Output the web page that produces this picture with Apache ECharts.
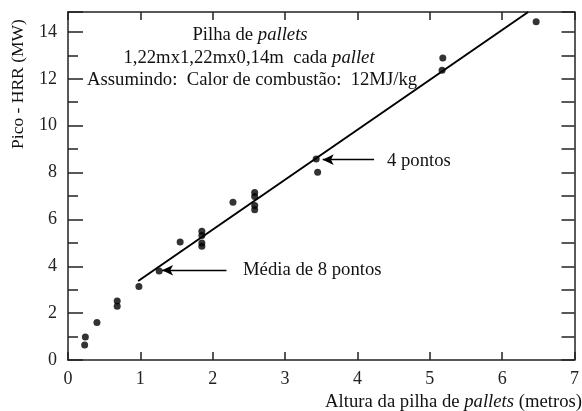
<!DOCTYPE html>
<html>
<head>
<meta charset="utf-8">
<script src="https://cdn.jsdelivr.net/npm/echarts@6/dist/echarts.min.js"></script>
<style>
html,body{margin:0;padding:0;background:#fff;}
#chart{width:582px;height:411px;}
</style>
</head>
<body>
<div id="chart"></div>
<script>
// Data
var pointX = [0.23, 0.24, 0.40, 0.68, 0.68, 0.98, 1.26, 1.55, 1.85, 1.85, 1.85, 1.85, 2.28, 2.58, 2.58, 2.58, 2.58, 3.43, 3.45, 5.17, 5.18, 6.47];
var pointY = [0.64, 0.98, 1.60, 2.29, 2.52, 3.14, 3.80, 5.04, 4.85, 4.99, 5.31, 5.49, 6.73, 6.41, 6.59, 6.98, 7.15, 8.58, 8.01, 12.36, 12.89, 14.43];
var fitX = [0.97, 6.36];
var fitY = [3.37, 14.85];
var arrow4X = [4.23, 3.52];
var arrow4Y = [8.55, 8.55];
var arrow8X = [2.19, 1.30];
var arrow8Y = [3.83, 3.83];
var xTicks = [0, 1, 2, 3, 4, 5, 6, 7];
var yTicks = [0, 2, 4, 6, 8, 10, 12, 14];

var FONT = '"Liberation Serif", "Times New Roman", serif';
var AX = '#222';
var TS = 18.7;

var chart = echarts.init(document.getElementById('chart'), null, {renderer: 'canvas'});

function zip(a, b) { return a.map(function (v, i) { return [v, b[i]]; }); }

var xMin = xTicks[0], xMax = xTicks[xTicks.length - 1];
var yMin = yTicks[0], yMax = 14.85;

var arrowHead = {symbol: 'arrow', symbolSize: [8, 11]};

var option = {
  animation: false,
  backgroundColor: '#fff',
  grid: {left: 68, right: 5, top: 12, bottom: 51, containLabel: false},
  xAxis: [
    {
      type: 'value', position: 'bottom', min: xMin, max: xMax, interval: 1,
      axisLine: {show: true, lineStyle: {color: AX, width: 1.5}},
      axisTick: {show: true, inside: true, length: 8, lineStyle: {color: AX, width: 1.5}},
      axisLabel: {show: true, margin: 10, fontFamily: FONT, fontSize: 18, color: '#222',
        formatter: function (v) { return xTicks.indexOf(v) >= 0 ? String(v) : ''; }},
      splitLine: {show: false}
    },
    {
      type: 'value', position: 'top', min: xMin, max: xMax, interval: 1,
      axisLine: {show: true, onZero: false, lineStyle: {color: AX, width: 1.5}},
      axisTick: {show: true, inside: true, length: 8, lineStyle: {color: AX, width: 1.5}},
      axisLabel: {show: false},
      splitLine: {show: false}
    }
  ],
  yAxis: [
    {
      type: 'value', position: 'left', min: yMin, max: yMax, interval: 2,
      axisLine: {show: true, lineStyle: {color: AX, width: 1.5}},
      axisTick: {show: true, inside: true, length: 15, lineStyle: {color: AX, width: 1.5}},
      axisLabel: {show: true, margin: 11, fontFamily: FONT, fontSize: 18, color: '#222',
        formatter: function (v) { return yTicks.indexOf(v) >= 0 ? String(v) : ''; }},
      splitLine: {show: false}
    },
    {
      type: 'value', position: 'left', min: yMin, max: yMax, interval: 1,
      axisLine: {show: false},
      axisTick: {show: true, inside: true, length: 10, lineStyle: {color: AX, width: 1.5}},
      axisLabel: {show: false},
      splitLine: {show: false}
    },
    {
      type: 'value', position: 'right', min: yMin, max: yMax, interval: 1,
      axisLine: {show: true, onZero: false, lineStyle: {color: AX, width: 1.5}},
      axisTick: {show: true, inside: true, length: 13, lineStyle: {color: AX, width: 1.5}},
      axisLabel: {show: false},
      splitLine: {show: false}
    }
  ],
  series: [
    {
      type: 'scatter', xAxisIndex: 0, yAxisIndex: 0,
      symbol: 'circle', symbolSize: 7,
      itemStyle: {color: '#000'},
      data: zip(pointX, pointY),
      silent: true
    },
    {
      type: 'line', xAxisIndex: 0, yAxisIndex: 0,
      showSymbol: false, symbol: 'none',
      lineStyle: {color: '#000', width: 2},
      data: zip(fitX, fitY),
      silent: true,
      markLine: {
        silent: true,
        symbol: ['none', 'arrow'],
        symbolSize: [8, 11],
        label: {show: false},
        lineStyle: {color: '#000', width: 1.3, type: 'solid'},
        data: [
          [{coord: [arrow4X[0], arrow4Y[0]], symbol: 'none'}, {coord: [arrow4X[1], arrow4Y[1]], symbol: 'arrow', symbolSize: [8, 11]}],
          [{coord: [arrow8X[0], arrow8Y[0]], symbol: 'none'}, {coord: [arrow8X[1], arrow8Y[1]], symbol: 'arrow', symbolSize: [8, 11]}]
        ]
      }
    }
  ],
  graphic: [
    {
      type: 'text', x: 250, y: 35,
      style: {
        text: '{a|Pilha de }{b|pallets}',
        align: 'center', verticalAlign: 'middle',
        rich: {
          a: {fontFamily: FONT, fontSize: TS, fill: '#111'},
          b: {fontFamily: FONT, fontSize: TS, fontStyle: 'italic', fill: '#111'}
        }
      }
    },
    {
      type: 'text', x: 249, y: 58,
      style: {
        text: '{a|1,22mx1,22mx0,14m  cada }{b|pallet}',
        align: 'center', verticalAlign: 'middle',
        rich: {
          a: {fontFamily: FONT, fontSize: TS, fill: '#111'},
          b: {fontFamily: FONT, fontSize: TS, fontStyle: 'italic', fill: '#111'}
        }
      }
    },
    {
      type: 'text', x: 87, y: 80,
      style: {
        text: 'Assumindo:  Calor de combustão:  12MJ/kg',
        font: TS + 'px ' + FONT, fill: '#111',
        align: 'left', verticalAlign: 'middle'
      }
    },
    {
      type: 'text', x: 387, y: 161,
      style: {
        text: '4 pontos', font: TS + 'px ' + FONT, fill: '#111',
        align: 'left', verticalAlign: 'middle'
      }
    },
    {
      type: 'text', x: 243, y: 270,
      style: {
        text: 'Média de 8 pontos', font: TS + 'px ' + FONT, fill: '#111',
        align: 'left', verticalAlign: 'middle'
      }
    },
    {
      type: 'text', x: 582, y: 402,
      style: {
        text: '{a|Altura da pilha de }{b|pallets}{a| (metros)}',
        align: 'right', verticalAlign: 'middle',
        rich: {
          a: {fontFamily: FONT, fontSize: TS, fill: '#111'},
          b: {fontFamily: FONT, fontSize: TS, fontStyle: 'italic', fill: '#111'}
        }
      }
    },
    {
      type: 'text', x: 18, y: 84, rotation: Math.PI / 2,
      style: {
        text: 'Pico - HRR (MW)', font: '17.5px ' + FONT, fill: '#111',
        align: 'center', verticalAlign: 'middle'
      }
    }
  ]
};
chart.setOption(option);
</script>
</body>
</html>
